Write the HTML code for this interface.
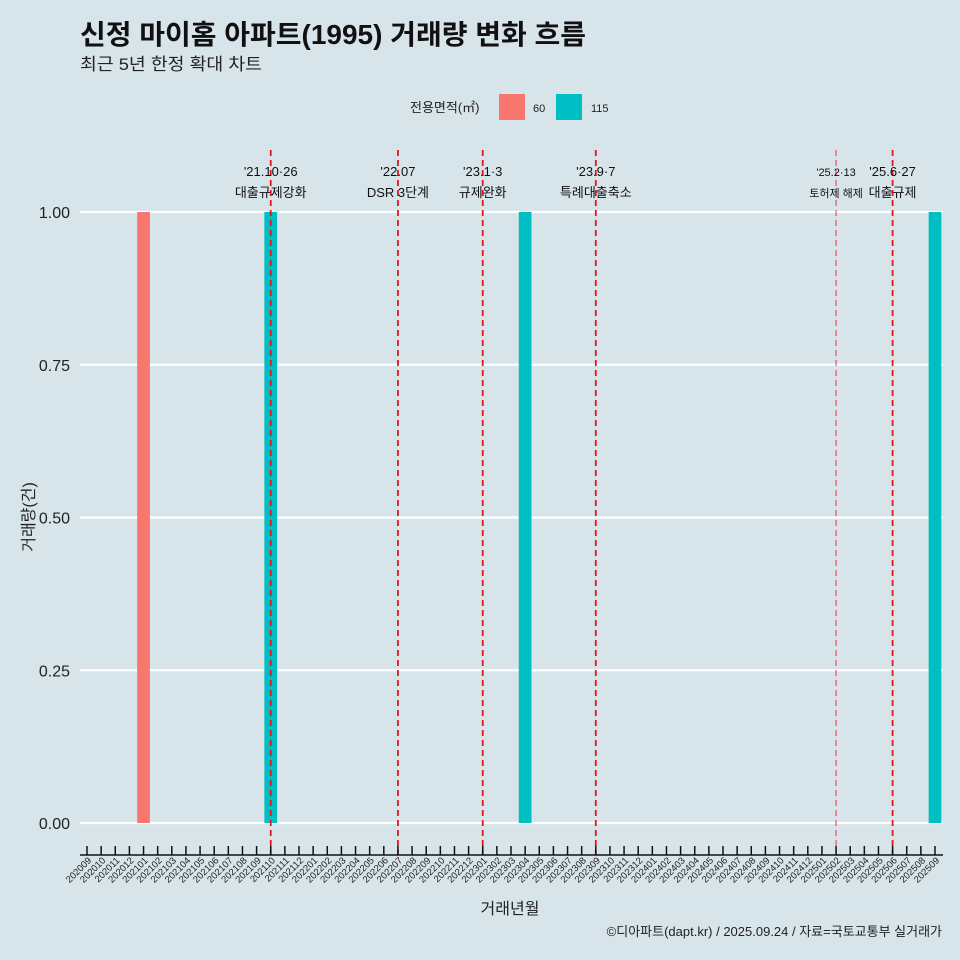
<!DOCTYPE html>
<html><head><meta charset="utf-8"><style>
html,body{margin:0;background:#d7e4ea;overflow:hidden;width:960px;height:960px;font-family:"Liberation Sans","Noto Sans CJK KR",sans-serif;}
svg{display:block;}
svg text{font-family:"Liberation Sans","Noto Sans CJK KR",sans-serif;}
</style></head><body>
<svg id="c" width="960" height="960" xmlns="http://www.w3.org/2000/svg">
<rect width="960" height="960" fill="#d7e4ea"/>
<text x="80" y="44" font-size="27.5" font-weight="bold" fill="#111" textLength="506" lengthAdjust="spacingAndGlyphs">신정 마이홈 아파트(1995) 거래량 변화 흐름</text>
<text x="80" y="70" font-size="17" fill="#222" textLength="182" lengthAdjust="spacingAndGlyphs">최근 5년 한정 확대 차트</text>
<g>
<text x="410" y="112" font-size="13" fill="#222">전용면적(㎡)</text>
<rect x="499" y="94" width="26" height="26" fill="#F8766D"/>
<text x="533" y="112" font-size="11" fill="#222">60</text>
<rect x="556" y="94" width="26" height="26" fill="#00BFC4"/>
<text x="591" y="112" font-size="11" fill="#222">115</text>
</g>
<g id="grid"></g><g id="bars"></g><g id="vlines"></g><g id="axes"></g>
<text x="510" y="914" font-size="16" text-anchor="middle" fill="#222">거래년월</text>
<text transform="translate(34,517) rotate(-90)" font-size="16" text-anchor="middle" fill="#222">거래량(건)</text>
<text x="942" y="936" font-size="13" text-anchor="end" fill="#222">©디아파트(dapt.kr) / 2025.09.24 / 자료=국토교통부 실거래가</text>
</svg>
<script>
const months=[];for(let y=2020;y<=2025;y++)for(let m=1;m<=12;m++){const k=y*100+m;if(k>=202009&&k<=202509)months.push(String(k));}
const barMonths=["202101","202110","202304","202509"];
const barValues=[1,1,1,1];
const barSeries=["60","115","115","115"];
const yTicks=[0,0.25,0.5,0.75,1];
const yTickLabels=["0.00","0.25","0.50","0.75","1.00"];
const eventMonths=["202110","202207","202301","202309","202502","202506"];
const eventLine1=["'21.10·26","'22.07","'23.1·3","'23.9·7","'25.2·13","'25.6·27"];
const eventLine2=["대출규제강화","DSR 3단계","규제완화","특례대출축소","토허제 해제","대출규제"];
const colors={"60":"#F8766D","115":"#00BFC4"};
const NS="http://www.w3.org/2000/svg";
const x0=87,dx=(935-87)/(months.length-1);
const X=m=>x0+months.indexOf(m)*dx;
const Y=v=>823-v*(823-212);
function el(t,a,p){const e=document.createElementNS(NS,t);for(const k in a)e.setAttribute(k,a[k]);document.getElementById(p).appendChild(e);return e;}
yTicks.forEach((v,i)=>{
 const l=el("line",{x1:80,x2:943,y1:Y(v),y2:Y(v),stroke:"#fff","stroke-width":2.2},"grid");
 
 
 const t=el("text",{x:70,y:Y(v)+6,"font-size":16,"text-anchor":"end",fill:"#222"},"grid");t.textContent=yTickLabels[i];
 
 
});
const bw=dx*0.9;
barMonths.forEach((m,i)=>{
 const r=el("rect",{x:X(m)-bw/2,y:Y(barValues[i]),width:bw,height:Y(0)-Y(barValues[i]),fill:colors[barSeries[i]]},"bars");
 
 
});
eventMonths.forEach((m,i)=>{
 const thin=m==="202502";
 const l=el("line",{x1:X(m),x2:X(m),y1:150,y2:855,stroke:"#e8141c","stroke-width":thin?1.2:1.8,"stroke-dasharray":"6,4",opacity:thin?0.7:1},"vlines");
 
 
 const fs=thin?11:13;
 const t1=el("text",{x:X(m),y:176,"font-size":fs,"text-anchor":"middle",fill:"#111"},"vlines");t1.textContent=eventLine1[i];
 
 
 const t2=el("text",{x:X(m),y:197,"font-size":fs,"text-anchor":"middle",fill:"#111"},"vlines");t2.textContent=eventLine2[i];
 
 
});
const ax=el("line",{x1:80,x2:943,y1:855,y2:855,stroke:"#111","stroke-width":1.5},"axes");


months.forEach(m=>{
 const tk=el("line",{x1:X(m),x2:X(m),y1:846,y2:855,stroke:"#111","stroke-width":1.5},"axes");
 
 
 const t=el("text",{transform:`translate(${X(m)+5},${861}) rotate(-45)`,"font-size":9.5,"text-anchor":"end",fill:"#222"},"axes");t.textContent=m;
 
 
});
</script>
</body></html>
